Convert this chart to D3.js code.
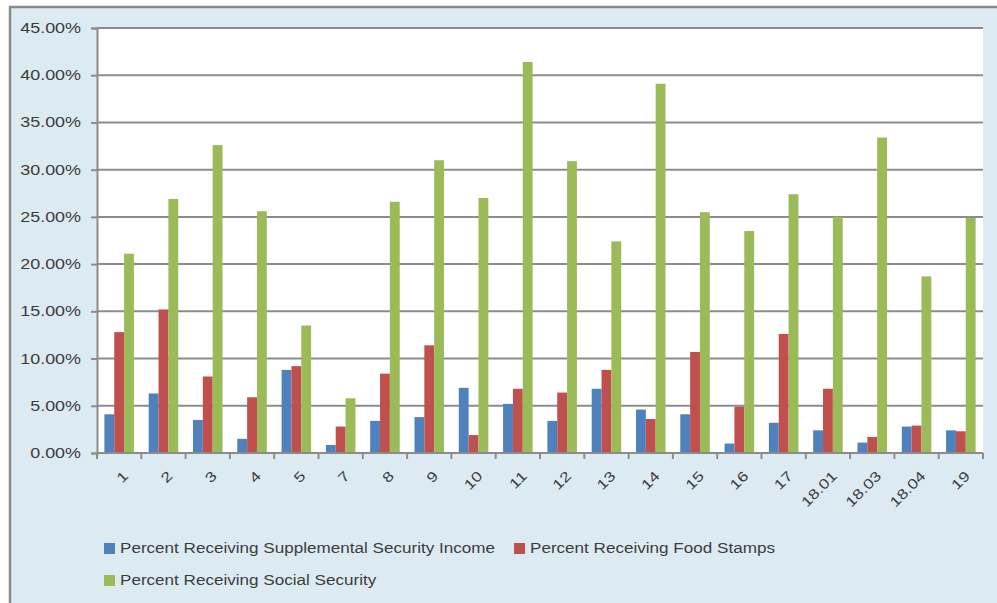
<!DOCTYPE html>
<html><head><meta charset="utf-8">
<script src="https://cdn.jsdelivr.net/npm/d3@7"></script>
<style>body{margin:0;background:#fff}svg{display:block}text{font-family:"Liberation Sans",Arial,sans-serif;fill:#3c3c3c}</style>
</head><body><div id="c"></div>
<script>
const categories = ["1","2","3","4","5","7","8","9","10","11","12","13","14","15","16","17","18.01","18.03","18.04","19"];
const seriesNames = ["Percent Receiving Supplemental  Security Income","Percent Receiving Food Stamps","Percent Receiving Social Security"];
const ssiValues = [4.1,6.3,3.5,1.5,8.8,0.85,3.4,3.8,6.9,5.2,3.4,6.8,4.6,4.1,1.0,3.2,2.4,1.1,2.8,2.4];
const foodStampValues = [12.8,15.2,8.1,5.9,9.2,2.8,8.4,11.4,1.9,6.8,6.4,8.8,3.6,10.7,4.9,12.6,6.8,1.7,2.9,2.3];
const socialSecurityValues = [21.1,26.9,32.6,25.6,13.5,5.8,26.6,31.0,27.0,41.4,30.9,22.4,39.1,25.5,23.5,27.4,25.0,33.4,18.7,24.9];
const yTicks = [0,5,10,15,20,25,30,35,40,45];
const colors = ["#4F81BD","#C0504D","#9BBB59"];

const W=997,H=603;
const svg=d3.select("#c").append("svg").attr("width",W).attr("height",H);
function stretch(k){return sel=>sel.each(function(){const l=this.getComputedTextLength();d3.select(this).attr("textLength",l*k).attr("lengthAdjust","spacingAndGlyphs");});}

// chart area
svg.append("rect").attr("x",10).attr("y",7).attr("width",W).attr("height",H).attr("fill","#DCEBF1").attr("stroke","#8a8a8a").attr("stroke-width",2.5);

const L=97,R=983,T=28,B=453;
svg.append("rect").attr("x",L).attr("y",T).attr("width",R-L).attr("height",B-T).attr("fill","#ffffff");

const x=d3.scaleBand().domain(categories).range([L,R]).paddingInner(0).paddingOuter(0);
const y=d3.scaleLinear().domain([0,45]).range([B,T]);
const bw=x.bandwidth()/4.5;
const x1=d3.scaleBand().domain([0,1,2]).range([0,3*bw]);
const off=(x.bandwidth()-3*bw)/2;

// gridlines
svg.append("g").selectAll("line").data(yTicks.filter(d=>d>0)).join("line")
 .attr("x1",L).attr("x2",R).attr("y1",d=>y(d)).attr("y2",d=>y(d))
 .attr("stroke","#8c8c8c").attr("stroke-width",2);

// y axis
const yAxis=svg.append("g").attr("transform",`translate(${L},0)`)
 .call(d3.axisLeft(y).tickValues(yTicks).tickSize(6).tickPadding(10).tickFormat(d=>d.toFixed(2)+"%"));
yAxis.select(".domain").attr("stroke","#8c8c8c").attr("stroke-width",2);
yAxis.selectAll(".tick line").attr("stroke","#8c8c8c").attr("stroke-width",2);
yAxis.selectAll("text").attr("font-size",14).attr("font-family","Liberation Sans, Arial, sans-serif").attr("fill","#3c3c3c").call(stretch(1.28));

// bars
const series=[ssiValues,foodStampValues,socialSecurityValues];
const data=[];
categories.forEach((c,i)=>series.forEach((s,j)=>data.push({c,j,v:s[i]})));
svg.append("g").selectAll("rect").data(data).join("rect")
 .attr("x",d=>x(d.c)+off+x1(d.j)).attr("width",x1.bandwidth())
 .attr("y",d=>y(d.v)).attr("height",d=>B-y(d.v)).attr("fill",d=>colors[d.j]);

// x axis
const boundaries=categories.map(c=>x(c)).concat([R]);
const xa=svg.append("g");
xa.append("line").attr("x1",L).attr("x2",R).attr("y1",B).attr("y2",B).attr("stroke","#8c8c8c").attr("stroke-width",2);
xa.selectAll("line.t").data(boundaries).join("line").attr("class","t")
 .attr("x1",d=>d).attr("x2",d=>d).attr("y1",B).attr("y2",B+6).attr("stroke","#8c8c8c").attr("stroke-width",2);
xa.selectAll("text").data(categories).join("text")
 .attr("transform",d=>`translate(${x(d)+x.bandwidth()/2+3},${B+17}) rotate(-45)`)
 .attr("text-anchor","end").attr("dy","0.7em").attr("font-size",14).text(d=>d).call(stretch(1.25));

// legend
const legend=[{i:0,x:104,y:548},{i:1,x:514,y:548},{i:2,x:104,y:580}];
const lg=svg.append("g").selectAll("g").data(legend).join("g").attr("transform",d=>`translate(${d.x},${d.y})`);
lg.append("rect").attr("x",0).attr("y",-5).attr("width",11).attr("height",11).attr("fill",d=>colors[d.i]);
lg.append("text").attr("x",16).attr("dy","0.35em").attr("font-size",14).text(d=>seriesNames[d.i]).call(stretch(1.22));
</script></body></html>
